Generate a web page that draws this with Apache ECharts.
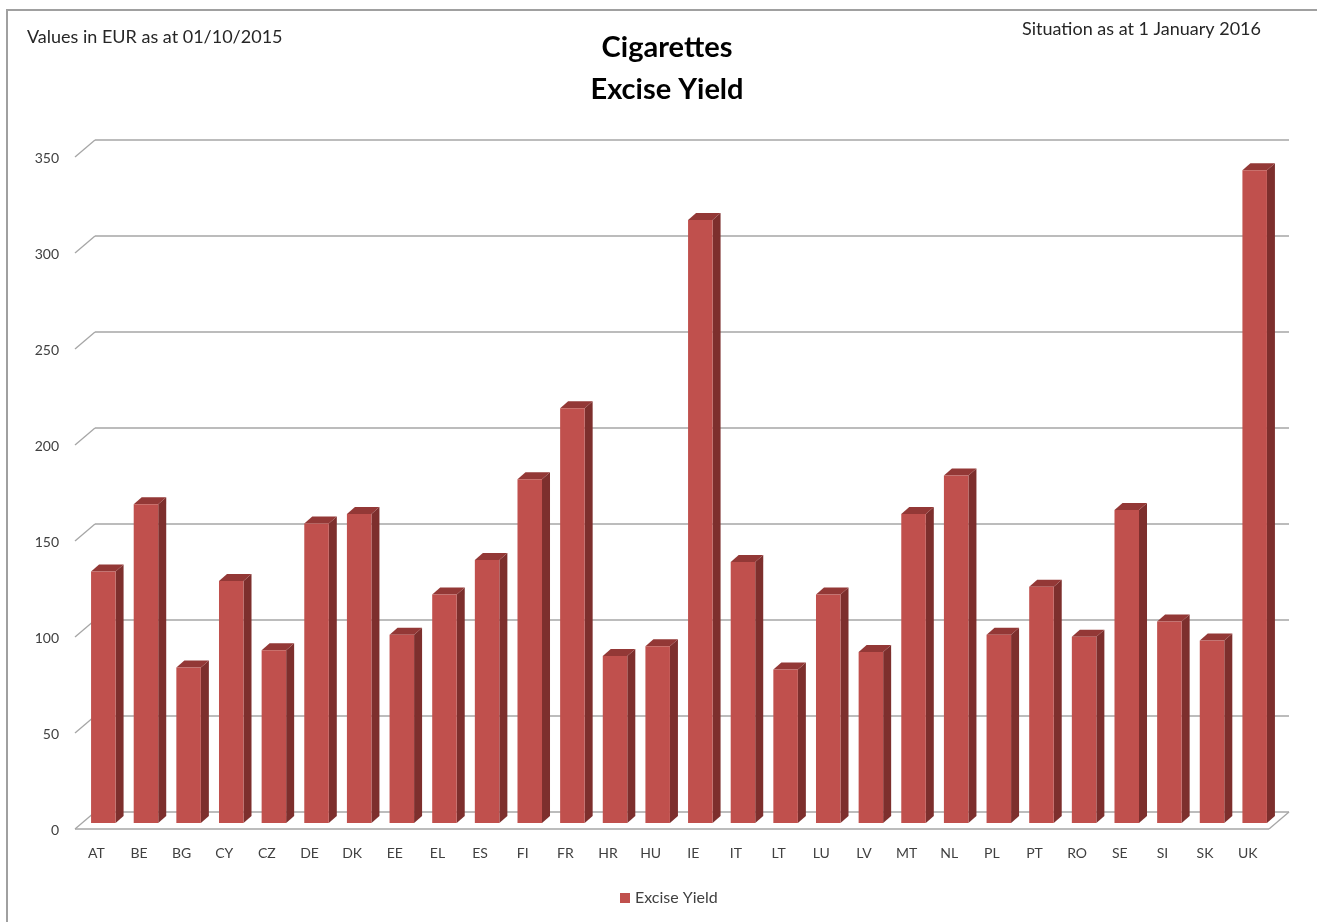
<!DOCTYPE html>
<html>
<head>
<meta charset="utf-8">
<script src="https://cdn.jsdelivr.net/npm/echarts@6/dist/echarts.min.js"></script>
<style>
html,body{margin:0;padding:0;background:#fff;}
#chart{width:1317px;height:922px;}
</style>
</head>
<body>
<div id="chart"></div>
<script>
const categories = ['AT','BE','BG','CY','CZ','DE','DK','EE','EL','ES','FI','FR','HR','HU','IE','IT','LT','LU','LV','MT','NL','PL','PT','RO','SE','SI','SK','UK'];
const exciseYield = [131,166,81,126,90,156,161,98,119,137,179,216,87,92,314,136,80,119,89,161,181,98,123,97,163,105,95,340];
const yTicks = [0,50,100,150,200,250,300,350];
const seriesName = 'Excise Yield';

const FONT = 'Lato, "Open Sans", sans-serif';
// oblique depth offsets (px) relative to the bar plane
const FRONT = [-7, 6];
const BACK = [13, -11];
const BAR_DEPTH = [8, -7];
const GRID_COLOR = '#A6A6A6';

const chart = echarts.init(document.getElementById('chart'), null, {renderer: 'canvas'});

const option = {
  backgroundColor: '#ffffff',
  animation: false,
  title: [
    {
      text: 'Cigarettes\nExcise Yield',
      left: 662, top: 22, textAlign: 'center',
      textStyle: {fontFamily: FONT, fontSize: 29, fontWeight: 'bold', color: '#000', lineHeight: 42}
    },
    {
      text: 'Values in EUR as at 01/10/2015',
      left: 27, top: 28, padding: 0,
      textStyle: {fontFamily: FONT, fontSize: 18, fontWeight: 'normal', color: '#262626'}
    },
    {
      text: 'Situation as at 1 January 2016',
      right: 56, top: 20, padding: 0,
      textStyle: {fontFamily: FONT, fontSize: 18, fontWeight: 'normal', color: '#262626'}
    }
  ],
  graphic: [
    {type: 'polyline', z: -10, silent: true,
     shape: {points: [[7, 922], [7, 10], [1317, 10]]},
     style: {fill: null, stroke: '#A0A0A0', lineWidth: 2}}
  ],
  legend: {
    data: [seriesName],
    left: 620, top: 890, padding: 0,
    icon: 'rect', itemWidth: 10, itemHeight: 10, itemGap: 5,
    textStyle: {fontFamily: FONT, fontSize: 16, color: '#404040'}
  },
  grid: {left: 82, right: 41, top: 151, bottom: 99},
  xAxis: {
    type: 'category',
    data: categories,
    axisLine: {show: false},
    axisTick: {show: false},
    axisLabel: {margin: 23, fontFamily: FONT, fontSize: 14, color: '#404040', padding: [0, 14, 0, 0], interval: 0}
  },
  yAxis: {
    type: 'value',
    min: 0, max: 350, interval: 50,
    axisLine: {show: false},
    axisTick: {show: false},
    splitLine: {show: false},
    axisLabel: {margin: 23, fontFamily: FONT, fontSize: 14, color: '#404040', verticalAlign: 'top'}
  },
  series: [
    {
      type: 'custom',
      name: 'frame',
      silent: true,
      z: 1,
      data: yTicks.map(v => [v]),
      encode: {y: 0},
      renderItem: function (params, api) {
        const cs = params.coordSys;
        const v = api.value(0);
        const y = api.coord([0, v])[1];
        const x0 = cs.x, x1 = cs.x + cs.width;
        const style = {stroke: GRID_COLOR, lineWidth: 1.3, fill: null};
        const children = [
          {type: 'line', shape: {x1: x0 + BACK[0], y1: y + BACK[1], x2: x1 + BACK[0], y2: y + BACK[1]}, style: style},
          {type: 'line', shape: {x1: x0 + FRONT[0], y1: y + FRONT[1], x2: x0 + BACK[0], y2: y + BACK[1]}, style: style}
        ];
        if (v === 0) {
          children.push({type: 'line', shape: {x1: x0 + FRONT[0], y1: y + FRONT[1], x2: x1 + FRONT[0], y2: y + FRONT[1]}, style: style});
          children.push({type: 'line', shape: {x1: x1 + FRONT[0], y1: y + FRONT[1], x2: x1 + BACK[0], y2: y + BACK[1]}, style: style});
        }
        return {type: 'group', children: children};
      }
    },
    {
      type: 'custom',
      name: seriesName,
      z: 5,
      itemStyle: {color: '#C0504D'},
      data: exciseYield.map((v, i) => [i, v]),
      encode: {x: 0, y: 1},
      renderItem: function (params, api) {
        const i = api.value(0), v = api.value(1);
        const base = api.coord([i, 0]);
        const top = api.coord([i, v]);
        const w = api.size([1, 0])[0] * 0.575;
        const x = base[0] - w / 2;
        const dx = BAR_DEPTH[0], dy = BAR_DEPTH[1];
        return {
          type: 'group',
          children: [
            {type: 'polygon', shape: {points: [[x + w, top[1]], [x + w + dx, top[1] + dy], [x + w + dx, base[1] + dy], [x + w, base[1]]]},
             style: {fill: '#7D2F2D'}},
            {type: 'polygon', shape: {points: [[x, top[1]], [x + dx, top[1] + dy], [x + w + dx, top[1] + dy], [x + w, top[1]]]},
             style: {fill: '#933836'}},
            {type: 'rect', shape: {x: x, y: top[1], width: w, height: base[1] - top[1]},
             style: {fill: '#C0504D'}}
          ]
        };
      }
    }
  ]
};
chart.setOption(option);
</script>
</body>
</html>
